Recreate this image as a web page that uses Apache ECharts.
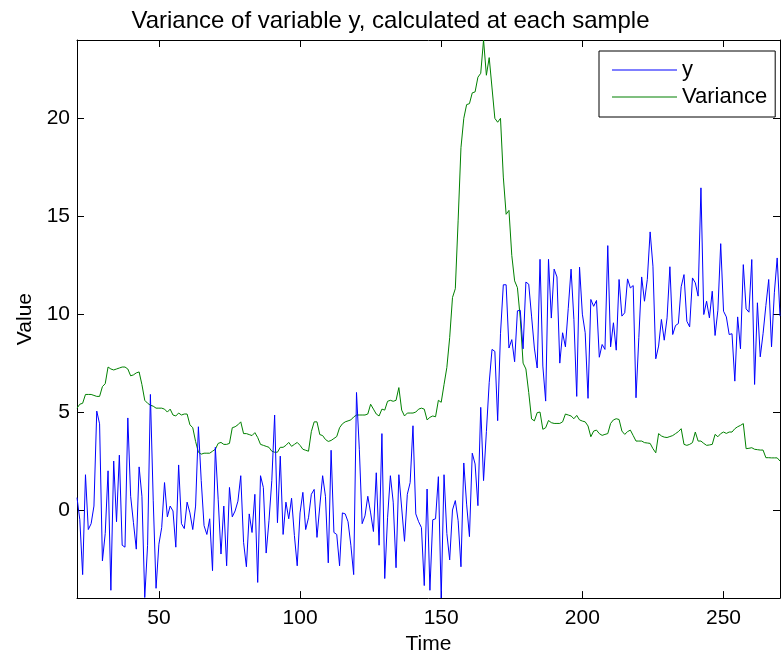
<!DOCTYPE html>
<html><head><meta charset="utf-8">
<script src="https://cdn.jsdelivr.net/npm/echarts@6/dist/echarts.min.js"></script>
<style>html,body{margin:0;padding:0;background:#fff}#c{width:781px;height:660px}</style>
</head><body><div id="c"></div>
<script>
// ---- data (sample index starts at 21) ----
const firstSample = 21;
const yValues = [
  0.63, -0.5, -3.3, 1.8, -1.0, -0.7, 0.2, 5.05, 4.4, -2.6,
  -1.2, 2.0, -4.1, 2.5, -0.6, 2.8, -1.8, -1.9, 4.7, 0.7,
  -0.65, -2.0, 2.2, 0.7, -4.47, -1.8, 5.9, 0.5, -4.0, -1.75,
  -0.9, 1.4, -0.35, 0.2, -0.05, -1.9, 2.3, -0.7, -0.95, 0.4,
  -0.15, -1.0, 0.2, 4.25, 1.5, -0.8, -1.25, -0.45, -3.1, 3.2,
  0.55, -2.25, 0.2, -2.85, 1.15, -0.35, -0.05, 0.45, 1.75, -1.65,
  -2.9, -0.2, -1.15, 0.8, -3.7, 1.75, 1.15, -2.2, -0.55, 1.5,
  4.85, -0.65, 2.75, -1.25, 0.4, -0.45, 0.6, -1.3, -2.85, -0.15,
  0.9, -1.0, -0.4, 0.8, 1.05, -1.4, 0.2, 1.75, 0.7, -2.7,
  3.05, -1.15, -1.25, -2.85, -0.15, -0.2, -0.6, -1.8, -3.3, 6.0,
  3.1, -0.7, -0.3, 0.7, -0.15, -1.1, 1.9, -1.8, 3.9, -3.5,
  -0.4, 1.75, 0.4, -2.95, 1.8, 0.1, -1.6, 0.8, 1.4, 4.3,
  -0.2, -0.6, -0.9, -3.86, 1.07, -4.1, -0.5, -0.45, 1.7, -4.5,
  1.8, -1.2, -2.55, 0.0, 0.48, -0.55, -2.9, 2.4, 0.3, -1.36,
  2.9, 2.35, 0.22, 5.24, 1.5, 4.0, 6.5, 8.2, 8.1, 4.56,
  9.0, 11.5, 11.5, 8.27, 8.7, 7.57, 10.17, 10.2, 8.23, 11.64,
  11.53, 9.9, 8.27, 7.25, 12.8, 7.35, 5.56, 12.8, 9.8, 12.3,
  11.9, 7.5, 9.05, 8.33, 10.3, 12.3, 9.73, 5.8, 12.4, 10.0,
  9.05, 5.7, 10.75, 10.4, 10.7, 7.8, 8.45, 8.2, 13.5, 8.33,
  9.56, 8.16, 11.77, 9.9, 10.07, 11.8, 11.34, 11.46, 5.73, 8.8,
  11.9, 10.66, 11.77, 14.2, 12.45, 7.72, 8.37, 9.73, 8.67, 9.81,
  12.42, 8.96, 9.42, 9.52, 11.4, 12.02, 9.64, 9.35, 11.85, 11.6,
  10.92, 16.45, 9.98, 10.66, 9.81, 11.17, 8.91, 10.2, 13.6, 10.15,
  9.86, 8.96, 9.0, 6.58, 9.86, 8.23, 12.53, 10.27, 10.1, 12.79,
  6.41, 10.58, 7.82, 9.0, 10.44, 11.77, 8.33, 11.09, 12.87, 9.9
];
const varianceValues = [
  5.2, 5.4, 5.45, 5.9, 5.9, 5.9, 5.85, 5.8, 5.8, 6.3,
  6.45, 7.3, 7.2, 7.15, 7.2, 7.25, 7.3, 7.3, 7.2, 6.85,
  6.9, 7.0, 7.05, 6.4, 5.6, 5.45, 5.35, 5.3, 5.2, 5.2,
  5.2, 5.15, 5.0, 5.15, 4.85, 4.8, 4.95, 4.85, 4.9, 4.9,
  4.35, 4.2, 3.5, 2.95, 2.85, 2.9, 2.9, 2.9, 3.0, 3.1,
  3.4, 3.45, 3.35, 3.35, 3.4, 4.2, 4.25, 4.35, 4.5, 3.9,
  3.9, 3.85, 3.8, 3.95, 3.7, 3.35, 3.3, 3.25, 3.2, 3.0,
  2.95, 2.95, 3.2, 3.2, 3.3, 3.45, 3.25, 3.35, 3.45, 3.3,
  3.1, 3.05, 3.0, 4.0, 4.5, 4.5, 3.85, 3.8, 3.6, 3.5,
  3.55, 3.65, 3.75, 4.2, 4.4, 4.5, 4.55, 4.6, 4.75, 4.85,
  4.85, 4.85, 4.85, 4.9, 5.4, 5.15, 4.9, 4.8, 5.15, 5.1,
  5.55, 5.6, 5.55, 5.6, 6.25, 5.1, 4.8, 4.95, 4.95, 4.95,
  5.0, 5.15, 5.2, 5.15, 4.6, 4.73, 4.8, 4.76, 5.6, 5.5,
  6.4, 7.28, 8.8, 10.85, 11.3, 14.8, 18.5, 20.0, 20.7, 20.75,
  21.3, 21.35, 22.1, 22.3, 24.0, 22.2, 23.1, 21.55, 20.0, 19.8,
  20.0, 17.0, 15.1, 15.3, 13.0, 11.7, 11.35, 9.8, 7.5, 7.2,
  6.0, 4.65, 4.55, 4.97, 5.0, 4.12, 4.2, 4.57, 4.46, 4.42,
  4.42, 4.42, 4.5, 4.9, 4.85, 4.8, 4.66, 4.83, 4.6, 4.54,
  4.5, 4.29, 3.74, 4.03, 4.08, 3.9, 3.81, 3.86, 3.9, 4.42,
  4.6, 4.66, 4.62, 4.03, 3.86, 4.0, 4.08, 3.8, 3.52, 3.52,
  3.52, 3.44, 3.42, 3.4, 3.13, 2.92, 3.9, 3.78, 3.72, 3.7,
  3.75, 3.8, 3.9, 4.0, 4.15, 3.35, 3.3, 3.35, 3.44, 3.98,
  3.52, 3.52, 3.4, 3.3, 3.32, 3.35, 3.86, 3.74, 3.9, 3.98,
  3.91, 3.98, 3.98, 4.15, 4.25, 4.32, 4.41, 3.13, 3.15, 3.18,
  3.1, 3.08, 3.06, 3.06, 2.67, 2.67, 2.66, 2.66, 2.66, 2.5
];
const xTickValues = [50, 100, 150, 200, 250];
const yTickValues = [0, 5, 10, 15, 20];
const seriesNames = ['y', 'Variance'];
const seriesColors = ['#0000ff', '#008000'];
const titleText = 'Variance of variable y, calculated at each sample';
const xAxisName = 'Time';
const yAxisName = 'Value';

// ---- build ----
const sampleTimes = yValues.map((_, i) => firstSample + i);
const ySeries = sampleTimes.map((t, i) => [t, yValues[i]]);
const varSeries = sampleTimes.map((t, i) => [t, varianceValues[i]]);
const xMin = sampleTimes[0], xMax = sampleTimes[sampleTimes.length - 1];
const allVals = yValues.concat(varianceValues);
const yMin = Math.min(...allVals), yMax = Math.max(...allVals);

const FONT = 'Liberation Sans, Arial, Helvetica, sans-serif';
const tickStyle = { show: true, inside: true, length: 7, lineStyle: { color: '#000', width: 1 } };
const lineStyleAxis = { show: true, onZero: false, lineStyle: { color: '#000', width: 1 } };

const chart = echarts.init(document.getElementById('c'), null, { renderer: 'canvas' });
chart.setOption({
  animation: false,
  backgroundColor: '#fff',
  title: {
    text: titleText, left: 'center', top: 4,
    textStyle: { fontFamily: FONT, fontSize: 24, fontWeight: 'normal', color: '#000' }
  },
  grid: { left: 77, right: 1, top: 40, bottom: 61, containLabel: false },
  legend: {
    orient: 'vertical', left: 599, top: 51,
    data: seriesNames.map((n, i) => ({ name: n, icon: 'rect', itemStyle: { color: seriesColors[i] } })),
    backgroundColor: '#fff', borderColor: '#000', borderWidth: 1, borderRadius: 0,
    padding: [7, 8, 8, 13],
    itemWidth: 65, itemHeight: 1, itemGap: 3,
    textStyle: { fontFamily: FONT, fontSize: 22, color: '#000', lineHeight: 24 }
  },
  xAxis: [{
    type: 'value', min: xMin, max: xMax, position: 'bottom',
    name: xAxisName, nameLocation: 'middle', nameGap: 34,
    nameTextStyle: { fontFamily: FONT, fontSize: 21, color: '#000' },
    axisLine: lineStyleAxis,
    axisTick: Object.assign({ customValues: xTickValues }, tickStyle),
    axisLabel: { customValues: xTickValues, margin: 10, fontFamily: FONT, fontSize: 21, color: '#000' },
    splitLine: { show: false }
  }, {
    type: 'value', min: xMin, max: xMax, position: 'top',
    axisLine: lineStyleAxis,
    axisTick: Object.assign({ customValues: xTickValues }, tickStyle),
    axisLabel: { show: false },
    splitLine: { show: false }
  }],
  yAxis: [{
    type: 'value', min: yMin, max: yMax, position: 'left',
    name: yAxisName, nameLocation: 'middle', nameGap: 40, nameRotate: 90,
    nameTextStyle: { fontFamily: FONT, fontSize: 21, color: '#000' },
    axisLine: lineStyleAxis,
    axisTick: Object.assign({ customValues: yTickValues }, tickStyle),
    axisLabel: { customValues: yTickValues, margin: 7, fontFamily: FONT, fontSize: 21, color: '#000' },
    splitLine: { show: false }
  }, {
    type: 'value', min: yMin, max: yMax, position: 'right',
    axisLine: lineStyleAxis,
    axisTick: Object.assign({ customValues: yTickValues }, tickStyle),
    axisLabel: { show: false },
    splitLine: { show: false }
  }],
  series: [{
    name: seriesNames[0], type: 'line', data: ySeries,
    xAxisIndex: 0, yAxisIndex: 0,
    symbol: 'none', showSymbol: false,
    lineStyle: { color: seriesColors[0], width: 1 }, itemStyle: { color: seriesColors[0] },
    z: 3
  }, {
    name: seriesNames[1], type: 'line', data: varSeries,
    xAxisIndex: 0, yAxisIndex: 0,
    symbol: 'none', showSymbol: false,
    lineStyle: { color: seriesColors[1], width: 1 }, itemStyle: { color: seriesColors[1] },
    z: 2
  }]
});
</script>
</body></html>
